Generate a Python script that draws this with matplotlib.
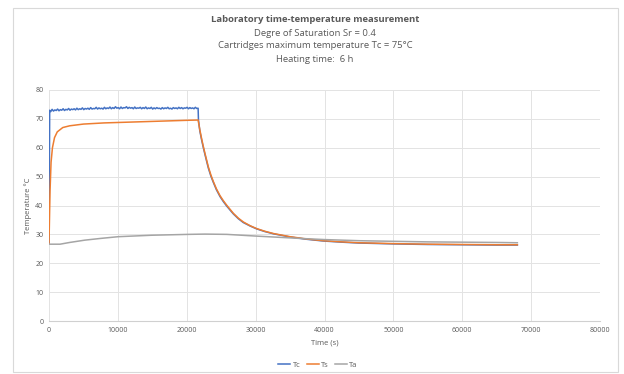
import matplotlib
matplotlib.use("Agg")
import matplotlib.pyplot as plt
from matplotlib.patches import Rectangle

# ---------------- data ----------------
title = "Laboratory time-temperature measurement"
subtitles = ["Degre of Saturation Sr = 0.4",
             "Cartridges maximum temperature Tc = 75°C",
             "Heating time:  6 h"]

# Tc: cartridge temperature, heating plateau sampled every 200 s (noisy)
tc_time_heat = [0, 100] + list(range(250, 21651, 200))
tc_heat = [27.0, 73.0,
           72.5, 73.3, 72.7, 73.1, 72.9, 73.4, 72.8, 73.2, 73.0, 73.5,
           72.9, 73.3, 73.1, 73.6, 73.0, 73.4, 73.2, 73.5, 73.1, 73.7,
           73.2, 73.5, 73.3, 73.8, 73.2, 73.6, 73.4, 73.7, 73.3, 73.9,
           73.4, 73.6, 73.5, 74.0, 73.4, 73.8, 73.5, 73.7, 73.4, 74.0,
           73.5, 73.8, 73.6, 74.1, 73.5, 73.9, 73.6, 74.2, 73.7, 73.9,
           73.5, 74.1, 73.6, 73.9, 73.8, 74.2, 73.6, 74.0, 73.7, 73.9,
           73.5, 74.1, 73.6, 73.8, 73.7, 74.0, 73.5, 73.9, 73.6, 74.1,
           73.5, 73.8, 73.6, 74.0, 73.4, 73.8, 73.5, 73.9, 73.6, 73.7,
           73.4, 73.9, 73.5, 73.8, 73.6, 74.0, 73.5, 73.7, 73.4, 73.9,
           73.6, 73.8, 73.5, 74.0, 73.6, 73.9, 73.5, 73.8, 73.7, 74.0,
           73.5, 73.9, 73.6, 73.8, 73.5, 74.0, 73.6, 73.7]
# Tc: cooling phase
tc_time_cool = [21700, 21900, 22170, 22400, 22650, 23130, 23500, 23860, 24300,
                24830, 25300, 25800, 26760, 27500, 28210, 29200, 30150, 31300,
                32570, 34990, 37410, 39830, 42500, 45000, 50000, 55000, 60000,
                65000, 68000]
tc_cool = [69.6, 65.8, 62.6, 60.1, 57.6, 53.0, 50.2, 48.0, 45.5, 43.1, 41.4,
           39.8, 37.1, 35.4, 34.1, 32.9, 31.9, 31.0, 30.2, 29.1, 28.3, 27.7,
           27.3, 27.0, 26.7, 26.5, 26.4, 26.3, 26.3]

# Ts: soil temperature
ts_time = [0, 150, 300, 500, 800, 1200, 2000, 3000, 5000, 8000, 12000, 16000,
           20000, 21650, 21900, 22170, 22400, 22650, 23130, 23500, 23860, 24300,
           24830, 25300, 25800, 26760, 27500, 28210, 29200, 30150, 31300, 32570,
           34990, 37410, 39830, 42500, 45000, 50000, 55000, 60000, 65000, 68000]
ts = [27.0, 45.0, 55.0, 60.0, 63.5, 65.5, 67.0, 67.6, 68.2, 68.6, 68.9, 69.2,
      69.5, 69.6, 66.2, 63.0, 60.5, 58.0, 53.4, 50.6, 48.3, 45.8, 43.4, 41.7,
      40.1, 37.3, 35.6, 34.3, 33.0, 32.0, 31.1, 30.3, 29.2, 28.4, 27.8, 27.4,
      27.1, 26.8, 26.6, 26.5, 26.4, 26.4]

# Ta: ambient temperature
ta_time = [0, 1600, 3000, 5200, 7500, 10060, 14900, 20230, 22650, 25800, 30150,
           36440, 40000, 45150, 50000, 55000, 60000, 65000, 68000]
ta = [26.6, 26.6, 27.2, 28.0, 28.6, 29.2, 29.7, 30.0, 30.1, 30.0, 29.4, 28.6,
      28.2, 27.8, 27.6, 27.4, 27.3, 27.2, 27.1]

x_ticks = [0, 10000, 20000, 30000, 40000, 50000, 60000, 70000, 80000]
y_ticks = [0, 10, 20, 30, 40, 50, 60, 70, 80]

# ---------------- figure ----------------
plt.rcParams['font.family'] = ['Open Sans', 'DejaVu Sans']
W, H = 624, 374
fig = plt.figure(figsize=(W / 100, H / 100), dpi=100)
fig.patch.set_facecolor("white")

# chart frame
fig.add_artist(Rectangle((13 / W, 1 - 372 / H), (618 - 13) / W, (372 - 8) / H,
                         transform=fig.transFigure, fill=False,
                         edgecolor="#d9d9d9", linewidth=0.8))

ax = fig.add_axes([49 / W, 1 - 321 / H, (600 - 49) / W, (321 - 90) / H])
txt = "#595959"

ax.plot(tc_time_heat + tc_time_cool, tc_heat + tc_cool, color="#4472C4", lw=1.1, label="Tc")
ax.plot(ts_time, ts, color="#ED7D31", lw=1.1, label="Ts")
ax.plot(ta_time, ta, color="#A5A5A5", lw=1.1, label="Ta")

ax.set_xlim(0, 80000)
ax.set_ylim(0, 80)
ax.set_xticks(x_ticks)
ax.set_yticks(y_ticks)
ax.set_xticklabels([str(v) for v in x_ticks])
ax.tick_params(axis="both", length=0, labelsize=5, colors=txt, pad=4)
ax.grid(True, color="#e3e3e3", linewidth=0.7)
ax.set_axisbelow(True)
for s in ["top", "right", "left"]:
    ax.spines[s].set_visible(False)
ax.spines["bottom"].set_color("#d0d0d0")
ax.spines["bottom"].set_linewidth(0.8)

ax.set_xlabel("Time (s)", fontsize=5.5, color=txt, labelpad=4)
ax.set_ylabel("Temperature °C", fontsize=5.5, color=txt, labelpad=2)

fig.text(315 / W, 1 - 19 / H, title, ha="center", va="center",
         fontsize=6.8, fontweight="bold", color=txt)
for i, s in enumerate(subtitles):
    fig.text(315 / W, 1 - (33 + 13 * i) / H, s, ha="center", va="center",
             fontsize=6.8, color=txt)

leg = fig.legend(loc="center", bbox_to_anchor=(318 / W, 1 - 365 / H), ncol=3,
                 frameon=False, fontsize=5.5, handlelength=1.6, handletextpad=0.3,
                 columnspacing=0.8, labelcolor=txt)

fig.savefig("out.png", dpi=100, facecolor="white")
